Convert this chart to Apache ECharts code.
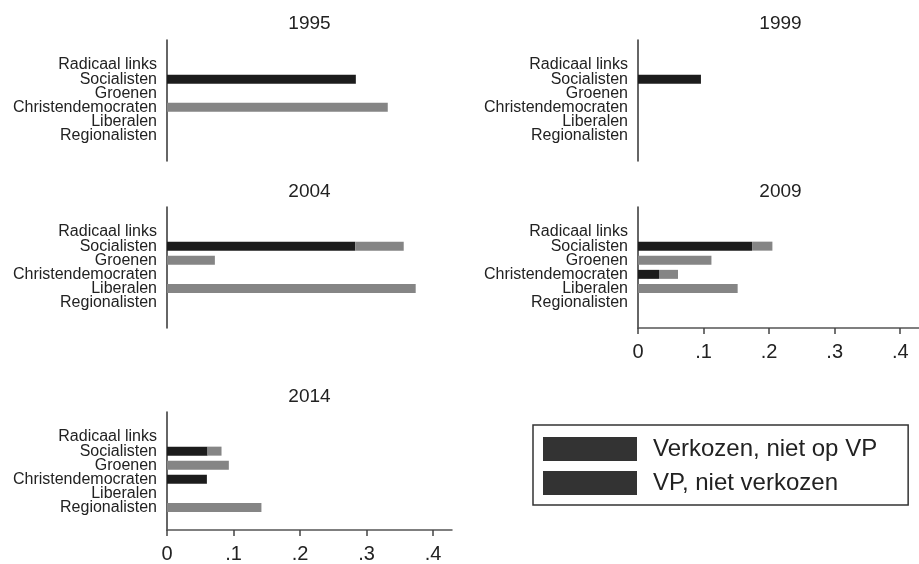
<!DOCTYPE html>
<html>
<head>
<meta charset="utf-8">
<script src="https://cdn.jsdelivr.net/npm/echarts@6/dist/echarts.min.js"></script>
<style>
html,body{margin:0;padding:0;background:#fff;}
#chart{width:919px;height:564px;}
</style>
</head>
<body>
<div id="chart"></div>
<script>
// ---- data ----
const categories = ['Radicaal links', 'Socialisten', 'Groenen', 'Christendemocraten', 'Liberalen', 'Regionalisten'];
const years = ['1995', '1999', '2004', '2009', '2014'];
const seriesNames = ['Verkozen, niet op VP', 'VP, niet verkozen'];
const xTicks = [0, 0.1, 0.2, 0.3, 0.4];

const elected1995 = [0, 0.284, 0, 0, 0, 0];
const vpOnly1995  = [0, 0, 0, 0.332, 0, 0];
const elected1999 = [0, 0.096, 0, 0, 0, 0];
const vpOnly1999  = [0, 0, 0, 0, 0, 0];
const elected2004 = [0, 0.283, 0, 0, 0, 0];
const vpOnly2004  = [0, 0.073, 0.072, 0, 0.374, 0];
const elected2009 = [0, 0.174, 0, 0.032, 0, 0];
const vpOnly2009  = [0, 0.031, 0.112, 0.029, 0.152, 0];
const elected2014 = [0, 0.061, 0, 0.060, 0, 0];
const vpOnly2014  = [0, 0.021, 0.093, 0, 0, 0.142];

// ---- layout ----
const FONT = "'Liberation Sans', Arial, sans-serif";
const X_MAX = 0.4286;
const PW = 285, FH = 121;
const panels = [
  {year: years[0], left: 167, top: 40,  titleY: 23.3,  axis: false, elected: elected1995, vp: vpOnly1995},
  {year: years[1], left: 638, top: 40,  titleY: 23.3,  axis: false, elected: elected1999, vp: vpOnly1999},
  {year: years[2], left: 167, top: 207, titleY: 191.5, axis: false, elected: elected2004, vp: vpOnly2004},
  {year: years[3], left: 638, top: 207, titleY: 191.5, axis: true,  elected: elected2009, vp: vpOnly2009},
  {year: years[4], left: 167, top: 412, titleY: 396.5, axis: true,  elected: elected2014, vp: vpOnly2014}
];

const grid = [], xAxis = [], yAxis = [], series = [], title = [];
const fmt = v => { const n = Number(v.toFixed(1)); return n === 0 ? '0' : String(n).replace(/^0/, ''); };

panels.forEach((p, i) => {
  const gFrame = 2 * i, gBars = 2 * i + 1;
  title.push({
    text: p.year, left: p.left + PW / 2, top: p.titleY - 11, textAlign: 'center', padding: 0,
    textStyle: {fontFamily: FONT, fontSize: 19, fontWeight: 'normal', color: '#222', lineHeight: 22}
  });
  // frame grid: axis lines and ticks
  grid.push({left: p.left, top: p.top, width: PW, height: FH, containLabel: false});
  xAxis.push({
    gridIndex: gFrame, type: 'value', min: 0, max: X_MAX, show: p.axis,
    axisLine: {show: true, onZero: false, lineStyle: {color: '#555', width: 1.5}},
    axisTick: {show: true, length: 6, customValues: xTicks, lineStyle: {color: '#444', width: 1.5}},
    axisLabel: {show: true, customValues: xTicks, formatter: fmt, margin: 14, fontFamily: FONT, fontSize: 20, color: '#222'},
    splitLine: {show: false}
  });
  yAxis.push({
    gridIndex: gFrame, type: 'value', min: 0, max: 1,
    axisLine: {show: true, onZero: false, lineStyle: {color: '#333', width: 1.5}},
    axisTick: {show: false}, axisLabel: {show: false}, splitLine: {show: false}
  });
  // bars grid
  grid.push({left: p.left, top: p.top + 18, width: PW, height: 84.6, containLabel: false});
  xAxis.push({gridIndex: gBars, type: 'value', min: 0, max: X_MAX, show: false, splitLine: {show: false}});
  yAxis.push({
    gridIndex: gBars, type: 'category', data: categories, inverse: true,
    axisLine: {show: false}, axisTick: {show: false},
    axisLabel: {margin: 10, fontFamily: FONT, fontSize: 16, color: '#222', interval: 0}
  });
  series.push({
    name: seriesNames[0], type: 'bar', stack: 'p' + i, xAxisIndex: gBars, yAxisIndex: gBars,
    data: p.elected, barWidth: 9, itemStyle: {color: '#1c1c1c'}, silent: true
  });
  series.push({
    name: seriesNames[1], type: 'bar', stack: 'p' + i, xAxisIndex: gBars, yAxisIndex: gBars,
    data: p.vp, barWidth: 9, itemStyle: {color: '#858585'}, silent: true
  });
});

const chart = echarts.init(document.getElementById('chart'), null, {renderer: 'canvas'});
chart.setOption({
  animation: false,
  backgroundColor: '#fff',
  title: title,
  grid: grid,
  xAxis: xAxis,
  yAxis: yAxis,
  series: series,
  legend: {
    orient: 'vertical', left: 533, top: 425,
    padding: [12, 31, 10, 10],
    itemWidth: 94, itemHeight: 24, itemGap: 10,
    borderColor: '#333', borderWidth: 1.5, borderRadius: 0,
    icon: 'rect', selectedMode: false,
    textStyle: {fontFamily: FONT, fontSize: 24, color: '#222', padding: [0, 0, 0, 11]},
    data: [
      {name: seriesNames[0], itemStyle: {color: '#333'}},
      {name: seriesNames[1], itemStyle: {color: '#333'}}
    ]
  }
});
</script>
</body>
</html>
